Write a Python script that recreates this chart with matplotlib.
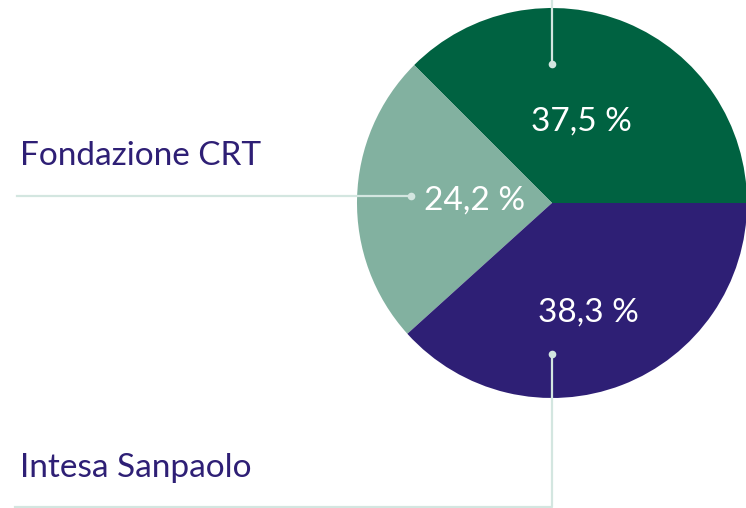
import numpy as np
import matplotlib
matplotlib.use("Agg")
import matplotlib.pyplot as plt

# quote azionarie
shareholders = ["Compagnia di San Paolo", "Fondazione CRT", "Intesa Sanpaolo"]
shares = [37.5, 24.2, 38.3]
colors = ["#006241", "#82b1a0", "#2e1f75"]

LINE = "#d3e6e0"
TXT = "#2e1f75"
FONT = ["Lato", "DejaVu Sans"]

W, H = 746, 508
fig = plt.figure(figsize=(W / 100, H / 100), dpi=100)
ax = fig.add_axes([0, 0, 1, 1])

cx, cy, r = 552, H - 203, 195
wedges, _ = ax.pie(shares, colors=colors, startangle=0, counterclock=True,
                   center=(cx, cy), radius=r,
                   wedgeprops=dict(linewidth=0))

ax.set_xlim(0, W)
ax.set_ylim(0, H)
ax.set_aspect("equal")
ax.axis("off")


def polar(theta, frac):
    t = np.deg2rad(theta)
    return cx + frac * r * np.cos(t), cy + frac * r * np.sin(t)


# etichette percentuali
pct_dist = [0.45, 0.42, 0.6]
x_shift = [-4, 4, -6]
for w, v, d, s in zip(wedges, shares, pct_dist, x_shift):
    mid = (w.theta1 + w.theta2) / 2
    x, y = polar(mid, d)
    ax.text(x + s, y, f"{v:.1f} %".replace(".", ","), color="white",
            fontsize=24, family=FONT, ha="center", va="center")

# linee di richiamo
dot_top = (cx, cy + 0.715 * r)
dot_left = (cx - 0.725 * r, cy + 7)
dot_bot = (cx, cy - 0.775 * r)

ax.plot([dot_top[0], dot_top[0]], [dot_top[1], H], color=LINE, lw=1.6, zorder=3)
ax.plot([17, dot_left[0]], [dot_left[1], dot_left[1]], color=LINE, lw=1.6, zorder=3)
ax.plot([dot_bot[0], dot_bot[0], 15], [dot_bot[1], 1.5, 1.5], color=LINE, lw=1.6, zorder=3)
for p in (dot_top, dot_left, dot_bot):
    ax.plot(*p, "o", color=LINE, ms=5.5, mec="none", zorder=4)

ax.text(20, H - 165, shareholders[1], color=TXT, fontsize=24, family=FONT,
        ha="left", va="baseline")
ax.text(20, H - 477, shareholders[2], color=TXT, fontsize=24, family=FONT,
        ha="left", va="baseline")

fig.savefig("out.png", dpi=100)
